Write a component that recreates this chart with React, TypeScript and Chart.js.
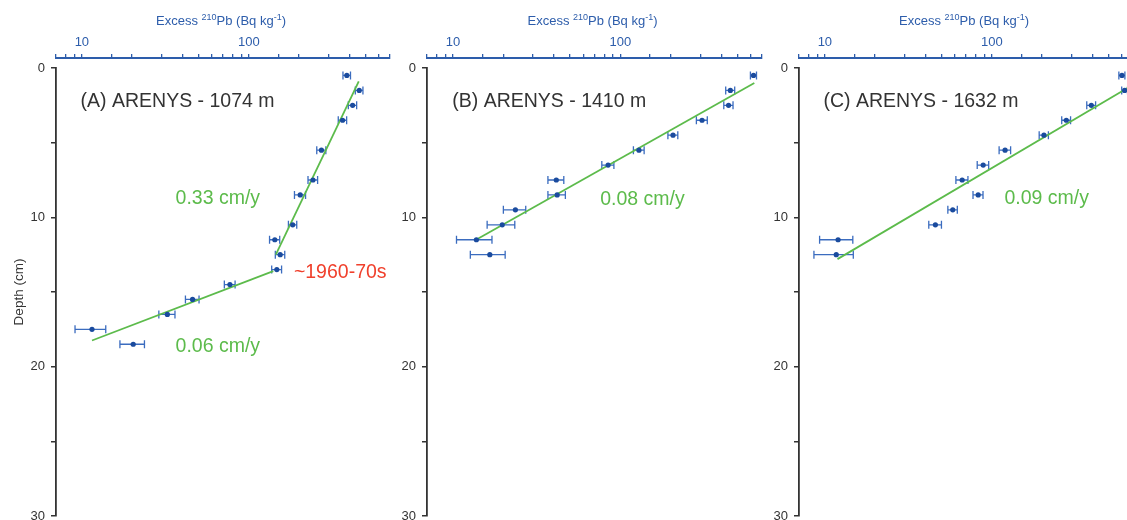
import React, { useEffect, useRef } from 'react';
import { Chart, registerables } from 'chart.js';

Chart.register(...registerables);
Chart.defaults.font.family = "'Liberation Sans', Arial, Helvetica, sans-serif";

// ---------- Data ----------
// Panel A : ARENYS 1074 m
const depthA = [0.5, 1.5, 2.5, 3.5, 5.5, 7.5, 8.5, 10.5, 11.5, 12.5, 13.5, 14.5, 15.5, 16.5, 17.5, 18.5];
const pbA = [386, 458, 418, 364, 272, 242, 203, 183, 143, 154, 147, 77, 46, 32.5, 11.5, 20.3];
const errA = [20, 24, 24, 21, 17, 16, 15.5, 10.5, 10, 10, 10, 5.7, 4.3, 3.6, 2.4, 3.4];
const fitA1 = [[455, 0.9], [145, 12.5]];
const fitA2 = [[140, 13.6], [11.5, 18.25]];

// Panel B : ARENYS 1410 m
const depthB = [0.5, 1.5, 2.5, 3.5, 4.5, 5.5, 6.5, 7.5, 8.5, 9.5, 10.5, 11.5, 12.5];
const pbB = [623, 453, 442, 307, 206, 129, 84.4, 41.4, 41.9, 23.6, 19.7, 13.8, 16.6];
const errB = [26, 28, 28, 23, 14, 9.5, 7, 4.5, 5, 3.6, 3.7, 3.3, 3.9];
const fitB = [[630, 1.0], [14, 11.45]];

// Panel C : ARENYS 1632 m
const depthC = [0.5, 1.5, 2.5, 3.5, 4.5, 5.5, 6.5, 7.5, 8.5, 9.5, 10.5, 11.5, 12.5];
const pbC = [601, 624, 394, 279, 205, 120, 88.7, 66.4, 82.8, 58.3, 45.9, 12.0, 11.7];
const errC = [25, 25, 24, 17, 13, 9.5, 7, 5.5, 5.7, 3.8, 4, 2.7, 3.1];
const fitC = [[680, 1.2], [11.9, 12.8]];

// Axis ranges and labels
const xMin = 7;
const xMax = 700;
const xLabelled = [10, 100];
const yMin = 0;
const yMax = 30;
const yStep = 5;
const yLabelEvery = 10;
// x title pieces: [text, isSuperscript]
const xTitleParts: [string, boolean][] = [
  ['Excess ', false],
  ['210', true],
  ['Pb (Bq kg', false],
  ['-1', true],
  [')', false],
];
const yTitle = 'Depth (cm)';

const titlesText = ['(A) ARENYS - 1074 m', '(B) ARENYS - 1410 m', '(C) ARENYS - 1632 m'];
const rateText = ['0.33 cm/y', '0.08 cm/y', '0.09 cm/y'];
const rateA2Text = '0.06 cm/y';
const eventText = '~1960-70s';

// ---------- Styles ----------
const FAMILY = "'Liberation Sans', Arial, sans-serif";
const AXIS_BLUE = '#2d5dab';
const DARK = '#333333';
const POINT_BLUE = '#1a4b9e';
const BAR_BLUE = '#3b6cbf';
const GREEN = '#5cbb4b';
const RED = '#f0402c';
const ANN_FONT = `19.5px ${FAMILY}`;

type Ann = { text: string; x: number; y: number; color: string };

type PanelCfg = {
  canvasLeft: number;
  canvasWidth: number;
  areaLeft: number;
  areaWidth: number;
  showYTitle: boolean;
  depth: number[];
  pb: number[];
  err: number[];
  fits: number[][][];
  anns: Ann[];
};

const panels: PanelCfg[] = [
  {
    canvasLeft: 0, canvasWidth: 400, areaLeft: 56, areaWidth: 334, showYTitle: true,
    depth: depthA, pb: pbA, err: errA, fits: [fitA1, fitA2],
    anns: [
      { text: titlesText[0], x: 9.82, y: 2.25, color: DARK },
      { text: rateText[0], x: 36.4, y: 8.77, color: GREEN },
      { text: eventText, x: 186, y: 13.71, color: RED },
      { text: rateA2Text, x: 36.4, y: 18.68, color: GREEN },
    ],
  },
  {
    canvasLeft: 385, canvasWidth: 385, areaLeft: 427, areaWidth: 335, showYTitle: false,
    depth: depthB, pb: pbB, err: errB, fits: [fitB],
    anns: [
      { text: titlesText[1], x: 9.9, y: 2.25, color: DARK },
      { text: rateText[1], x: 75.7, y: 8.82, color: GREEN },
    ],
  },
  {
    canvasLeft: 760, canvasWidth: 400, areaLeft: 799, areaWidth: 334, showYTitle: false,
    depth: depthC, pb: pbC, err: errC, fits: [fitC],
    anns: [
      { text: titlesText[2], x: 9.8, y: 2.25, color: DARK },
      { text: rateText[2], x: 119, y: 8.77, color: GREEN },
    ],
  },
];

const HEIGHT = 520;
const AREA_TOP = 68;
const AREA_BOTTOM = 517;
const TOP_AXIS_SHIFT = 10;

function Panel({ cfg }: { cfg: PanelCfg }) {
  const ref = useRef<HTMLCanvasElement | null>(null);

  useEffect(() => {
    const canvas = ref.current;
    if (!canvas) return;
    const yWidth = cfg.areaLeft - cfg.canvasLeft;
    const padRight = cfg.canvasWidth - yWidth - cfg.areaWidth;

    const shiftPlugin = {
      id: 'shiftTopAxis',
      afterLayout(chart: any) {
        const s = chart.scales.x;
        s.top -= TOP_AXIS_SHIFT;
        s.bottom -= TOP_AXIS_SHIFT;
      },
    };

    const xTitlePlugin = {
      id: 'xTitleSup',
      afterDraw(chart: any) {
        const { ctx } = chart;
        const s = chart.scales.x;
        const base = `13px ${FAMILY}`;
        const sup = `9px ${FAMILY}`;
        ctx.save();
        let total = 0;
        const widths = xTitleParts.map(([t, isSup]) => {
          ctx.font = isSup ? sup : base;
          const w = ctx.measureText(t).width;
          total += w;
          return w;
        });
        let x = (s.left + s.right) / 2 - total / 2 - 2;
        const y = s.top + 31;
        ctx.fillStyle = AXIS_BLUE;
        ctx.textAlign = 'left';
        ctx.textBaseline = 'middle';
        xTitleParts.forEach(([t, isSup], i) => {
          ctx.font = isSup ? sup : base;
          ctx.fillText(t, x, isSup ? y - 3.5 : y);
          x += widths[i];
        });
        ctx.restore();
      },
    };

    const errorBars = {
      id: 'errorBars',
      beforeDatasetsDraw(chart: any) {
        const { ctx, scales } = chart;
        const x = scales.x;
        const y = scales.y;
        ctx.save();
        ctx.strokeStyle = BAR_BLUE;
        ctx.lineWidth = 1.3;
        const cap = 4;
        cfg.pb.forEach((v, i) => {
          const py = y.getPixelForValue(cfg.depth[i]);
          const x1 = x.getPixelForValue(v - cfg.err[i]);
          const x2 = x.getPixelForValue(v + cfg.err[i]);
          ctx.beginPath();
          ctx.moveTo(x1, py);
          ctx.lineTo(x2, py);
          ctx.moveTo(x1, py - cap);
          ctx.lineTo(x1, py + cap);
          ctx.moveTo(x2, py - cap);
          ctx.lineTo(x2, py + cap);
          ctx.stroke();
        });
        ctx.restore();
      },
    };

    const annotations = {
      id: 'annotations',
      afterDraw(chart: any) {
        const { ctx, scales } = chart;
        ctx.save();
        ctx.font = ANN_FONT;
        ctx.textAlign = 'left';
        ctx.textBaseline = 'middle';
        cfg.anns.forEach((a) => {
          ctx.fillStyle = a.color;
          ctx.fillText(a.text, scales.x.getPixelForValue(a.x), scales.y.getPixelForValue(a.y));
        });
        ctx.restore();
      },
    };

    const datasets: any[] = [
      {
        label: 'points',
        data: cfg.pb.map((v, i) => ({ x: v, y: cfg.depth[i] })),
        pointRadius: 2.6,
        pointBackgroundColor: POINT_BLUE,
        pointBorderWidth: 0,
        showLine: false,
      },
      ...cfg.fits.map((f) => ({
        label: 'fit',
        data: f.map((p) => ({ x: p[0], y: p[1] })),
        showLine: true,
        borderColor: GREEN,
        borderWidth: 1.8,
        pointRadius: 0,
      })),
    ];

    const chart = new Chart(canvas, {
      type: 'scatter',
      data: { datasets },
      plugins: [shiftPlugin, errorBars, annotations, xTitlePlugin],
      options: {
        animation: false,
        responsive: false,
        maintainAspectRatio: false,
        layout: { padding: { left: 0, top: 0, right: padRight, bottom: HEIGHT - AREA_BOTTOM } },
        plugins: { legend: { display: false }, tooltip: { enabled: false } },
        scales: {
          x: {
            type: 'logarithmic',
            position: 'top',
            min: xMin,
            max: xMax,
            afterFit: (s: any) => {
              s.height = AREA_TOP;
              s.paddingLeft = 0;
              s.paddingRight = 0;
            },
            grid: {
              display: true,
              drawOnChartArea: false,
              drawTicks: true,
              tickLength: 4,
              color: AXIS_BLUE,
              lineWidth: 1.3,
            },
            border: { display: true, color: AXIS_BLUE, width: 2 },
            ticks: {
              autoSkip: false,
              maxRotation: 0,
              minRotation: 0,
              color: AXIS_BLUE,
              font: { size: 13 },
              padding: 4,
              callback: (v: any) => {
                const n = Number(v);
                return xLabelled.some((l) => Math.abs(l - n) < 1e-6) ? String(n) : '';
              },
            },
            title: { display: false },
          },
          y: {
            type: 'linear',
            position: 'left',
            reverse: true,
            min: yMin,
            max: yMax,
            afterFit: (s: any) => {
              s.width = yWidth;
              s.paddingTop = 0;
              s.paddingBottom = 0;
            },
            grid: {
              display: true,
              drawOnChartArea: false,
              drawTicks: true,
              tickLength: 5,
              color: DARK,
              lineWidth: 1.5,
            },
            border: { display: true, color: DARK, width: 1.8 },
            ticks: {
              stepSize: yStep,
              autoSkip: false,
              color: DARK,
              font: { size: 13 },
              padding: 6,
              callback: (v: any) => (Number(v) % yLabelEvery === 0 ? String(v) : ''),
            },
            title: {
              display: cfg.showYTitle,
              text: yTitle,
              color: DARK,
              font: { size: 13.5 },
              padding: { top: 11, bottom: 0 },
            },
          },
        },
      } as any,
    });
    return () => chart.destroy();
  }, [cfg]);

  return (
    <canvas
      ref={ref}
      width={cfg.canvasWidth}
      height={HEIGHT}
      style={{
        position: 'absolute',
        left: cfg.canvasLeft,
        top: 0,
        width: cfg.canvasWidth,
        height: HEIGHT,
      }}
    />
  );
}

export default function App() {
  return (
    <div
      style={{
        position: 'absolute',
        left: 0,
        top: 0,
        width: 1127,
        height: HEIGHT,
        overflow: 'hidden',
        background: '#ffffff',
      }}
    >
      {panels.map((p, i) => (
        <Panel key={i} cfg={p} />
      ))}
    </div>
  );
}
